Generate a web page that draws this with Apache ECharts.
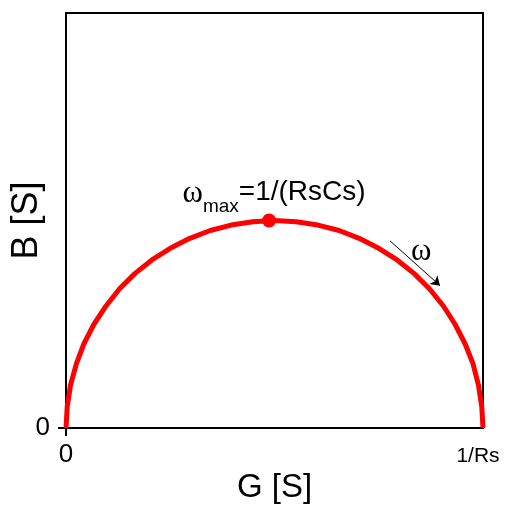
<!DOCTYPE html>
<html>
<head>
<meta charset="utf-8">
<script src="https://cdn.jsdelivr.net/npm/echarts@6/dist/echarts.min.js"></script>
<style>
html, body { margin: 0; padding: 0; background: #fff; }
#chart { width: 509px; height: 513px; }
</style>
</head>
<body>
<div id="chart"></div>
<script>
// G and B values of the semicircle, in units where 1/Rs = 1
var gValues = [0, 0.003, 0.011, 0.025, 0.043, 0.067, 0.096, 0.128, 0.165, 0.206, 0.25,
  0.297, 0.346, 0.396, 0.448, 0.5, 0.552, 0.604, 0.655, 0.703, 0.75,
  0.794, 0.835, 0.872, 0.905, 0.933, 0.957, 0.976, 0.989, 0.997, 1];
var bValues = [0, 0.052, 0.104, 0.155, 0.203, 0.25, 0.294, 0.335, 0.372, 0.405, 0.433,
  0.457, 0.476, 0.489, 0.497, 0.5, 0.497, 0.489, 0.476, 0.457, 0.433,
  0.405, 0.372, 0.335, 0.294, 0.25, 0.203, 0.155, 0.104, 0.052, 0];

// omega max point
var peakPoint = [0.487, 0.5];
// arrow showing increasing omega
var arrowStart = [0.777, 0.451];
var arrowEnd = [0.897, 0.343];
var omegaLabelPos = [0.852, 0.424];

var xTickLabels = { 0: '0', 1: '1/Rs' };
var yTickLabels = { 0: '0' };

var curve = [];
for (var i = 0; i < gValues.length; i++) {
  curve.push([gValues[i], bValues[i]]);
}

var sans = 'Liberation Sans, Arial, sans-serif';
var serif = 'Liberation Serif, Times New Roman, serif';

var myChart = echarts.init(document.getElementById('chart'));
myChart.setOption({
  animation: false,
  grid: {
    left: 66, right: 26, top: 13, bottom: 85,
    outerBoundsMode: 'none',
    containLabel: false,
    show: true, borderColor: '#000', borderWidth: 2
  },
  xAxis: {
    type: 'value', min: 0, max: 1, interval: 1,
    name: 'G [S]', nameLocation: 'middle', nameGap: 43,
    nameMoveOverlap: false,
    nameTextStyle: { fontFamily: sans, fontSize: 33, color: '#000' },
    splitLine: { show: false },
    axisLine: { lineStyle: { color: '#000', width: 2 } },
    axisTick: { customValues: [0], length: 8, lineStyle: { color: '#000', width: 2 } },
    axisLabel: {
      margin: 14,
      color: '#000',
      fontFamily: sans,
      formatter: function (v) {
        if (v === 1) return '{r|' + xTickLabels[1] + '}';
        return '{z|' + (xTickLabels[v] || '') + '}';
      },
      rich: {
        z: { fontSize: 26, fontFamily: sans, color: '#000' },
        r: { fontSize: 21, fontFamily: sans, color: '#000', padding: [4, 10, 0, 0] }
      }
    }
  },
  yAxis: {
    type: 'value', min: 0, max: 1, interval: 1,
    name: 'B [S]', nameLocation: 'middle', nameGap: 21,
    nameMoveOverlap: false,
    nameTextStyle: { fontFamily: sans, fontSize: 36, color: '#000' },
    splitLine: { show: false },
    axisLine: { lineStyle: { color: '#000', width: 2 } },
    axisTick: { customValues: [0], length: 8, lineStyle: { color: '#000', width: 2 } },
    axisLabel: {
      margin: 16,
      color: '#000',
      fontFamily: sans,
      fontSize: 26,
      formatter: function (v) { return yTickLabels[v] || ''; }
    }
  },
  series: [
    {
      type: 'line',
      data: curve,
      symbol: 'none',
      lineStyle: { color: '#ff0000', width: 5 },
      z: 3
    },
    {
      type: 'scatter',
      data: [peakPoint],
      symbolSize: 14,
      itemStyle: { color: '#ff0000', opacity: 1 },
      z: 4,
      label: {
        show: true,
        position: 'top',
        distance: 1,
        offset: [5, 0],
        color: '#000',
        formatter: '{w|ω}{m|max}{t|=1/(RsCs)}',
        rich: {
          w: { fontFamily: serif, fontSize: 31, color: '#000', lineHeight: 34, verticalAlign: 'top' },
          m: { fontFamily: sans, fontSize: 19, color: '#000', lineHeight: 19, padding: [19, 0, 0, 0], verticalAlign: 'top' },
          t: { fontFamily: sans, fontSize: 28, color: '#000', lineHeight: 34, verticalAlign: 'top' }
        }
      }
    },
    {
      type: 'lines',
      coordinateSystem: 'cartesian2d',
      symbol: ['none', 'arrow'],
      symbolSize: 9,
      lineStyle: { color: '#000', width: 1, opacity: 1 },
      data: [{ coords: [arrowStart, arrowEnd] }],
      z: 5
    },
    {
      type: 'scatter',
      data: [omegaLabelPos],
      symbolSize: 0,
      silent: true,
      itemStyle: { opacity: 1 },
      label: {
        show: true,
        position: 'inside',
        formatter: 'ω',
        fontFamily: serif,
        fontSize: 31,
        color: '#000'
      }
    }
  ]
});
</script>
</body>
</html>
